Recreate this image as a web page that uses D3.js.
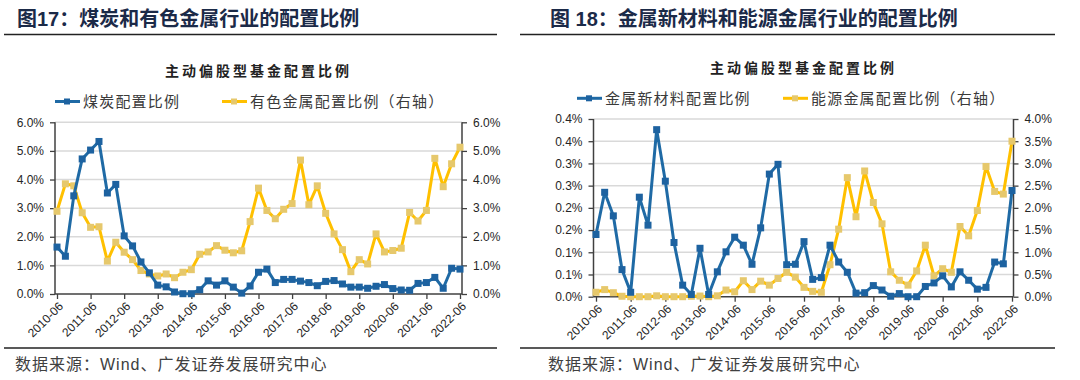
<!DOCTYPE html>
<html>
<head>
<meta charset="utf-8">
<script src="https://cdn.jsdelivr.net/npm/d3@7.9.0/dist/d3.min.js"></script>
<style>
  body { margin: 0; background: #fff; }
  svg text { font-family: "Liberation Sans", Arial, "Noto Sans CJK SC", sans-serif; }
</style>
</head>
<body>
<svg id="chart" width="1080" height="380"></svg>
<script>
// quarterly categories 2010-06 .. 2022-06
const quarters = [];
for (let y = 2010; y <= 2022; y++) {
  for (const m of ['03', '06', '09', '12']) {
    const q = `${y}-${m}`;
    if (q >= '2010-06' && q <= '2022-06') quarters.push(q);
  }
}
const yearTicks = ['2010-06', '2011-06', '2012-06', '2013-06', '2014-06', '2015-06', '2016-06',
  '2017-06', '2018-06', '2019-06', '2020-06', '2021-06', '2022-06'];

// fig 17: coal (left axis) and non-ferrous metals (right axis), %
const coal = [1.64, 1.32, 3.43, 4.72, 5.03, 5.33, 3.53, 3.83, 2.03, 1.68, 1.12, 0.74, 0.31, 0.25,
  0.07, 0.01, 0.01, 0.15, 0.46, 0.31, 0.46, 0.24, 0.03, 0.28, 0.76, 0.87, 0.40, 0.51, 0.51, 0.45,
  0.40, 0.29, 0.44, 0.47, 0.35, 0.24, 0.24, 0.20, 0.27, 0.33, 0.19, 0.14, 0.13, 0.37, 0.40, 0.58,
  0.20, 0.90, 0.87];
const nonferrous = [2.89, 3.85, 3.78, 2.84, 2.33, 2.35, 1.15, 1.81, 1.46, 1.20, 0.82, 0.70, 0.63,
  0.70, 0.57, 0.76, 0.85, 1.39, 1.47, 1.69, 1.53, 1.44, 1.51, 2.53, 3.70, 2.92, 2.63, 2.96, 3.16,
  4.68, 3.12, 3.78, 2.82, 2.10, 1.55, 0.78, 1.20, 1.05, 2.10, 1.47, 1.52, 1.60, 2.85, 2.55, 2.92,
  4.74, 3.75, 4.55, 5.13];
const ticks17 = [0, 1, 2, 3, 4, 5, 6];
const labels17 = ['0.0%', '1.0%', '2.0%', '3.0%', '4.0%', '5.0%', '6.0%'];

// fig 18: new metal materials (left axis) and energy metals (right axis), %
const newMaterials = [0.140, 0.235, 0.182, 0.061, 0.010, 0.224, 0.161, 0.376, 0.260, 0.122, 0.026,
  0.005, 0.109, 0.005, 0.056, 0.101, 0.134, 0.116, 0.073, 0.155, 0.276, 0.298, 0.072, 0.073, 0.124,
  0.039, 0.043, 0.116, 0.078, 0.055, 0.008, 0.009, 0.025, 0.015, 0.001, 0.007, 0.000, 0.000, 0.023,
  0.031, 0.047, 0.022, 0.056, 0.037, 0.017, 0.021, 0.078, 0.074, 0.239];
const energyMetals = [0.10, 0.16, 0.09, 0.01, 0.00, 0.00, 0.00, 0.02, 0.00, 0.00, 0.00, 0.01, 0.015,
  0.00, 0.02, 0.15, 0.11, 0.36, 0.16, 0.35, 0.26, 0.41, 0.55, 0.44, 0.21, 0.12, 0.10, 0.72, 1.52,
  2.68, 1.80, 2.83, 2.12, 1.64, 0.56, 0.37, 0.26, 0.58, 1.16, 0.47, 0.63, 0.55, 1.58, 1.37, 1.94,
  2.93, 2.37, 2.31, 3.50];
const ticks18L = [0, 0.05, 0.1, 0.15, 0.2, 0.25, 0.3, 0.35, 0.4];
const labels18L = ['0.0%', '0.1%', '0.1%', '0.2%', '0.2%', '0.3%', '0.3%', '0.4%', '0.4%'];
const ticks18R = [0, 0.5, 1, 1.5, 2, 2.5, 3, 3.5, 4];
const labels18R = ['0.0%', '0.5%', '1.0%', '1.5%', '2.0%', '2.5%', '3.0%', '3.5%', '4.0%'];

const BLUE = '#1f6aa5';
const BLUE_MARK = '#1d62a0';
const GOLD = '#ffc000';
const GOLD_MARK = '#e6c86c';
const CJK = '"Liberation Sans", Arial, "Noto Sans CJK SC", sans-serif';

const svg = d3.select('#chart');

function drawPanel(p) {
  const g = svg.append('g');

  // header title + rules
  g.append('text')
    .attr('x', p.titleX).attr('y', 26)
    .attr('font-size', 20).attr('font-weight', 'bold')
    .attr('fill', '#1b2a48')
    .style('font-family', CJK)
    .text(p.title);
  g.append('line').attr('x1', p.ruleX0).attr('x2', p.ruleX1)
    .attr('y1', 34.5).attr('y2', 34.5).attr('stroke', '#222').attr('stroke-width', 1.3);
  g.append('line').attr('x1', p.ruleX0).attr('x2', p.ruleX1)
    .attr('y1', 348).attr('y2', 348).attr('stroke', '#222').attr('stroke-width', 1.3);
  g.append('text')
    .attr('x', p.titleX - 2).attr('y', 370)
    .attr('font-size', 16).attr('fill', '#404040')
    .attr('letter-spacing', 1)
    .style('font-family', CJK)
    .text('数据来源：Wind、广发证券发展研究中心');

  // scales
  const x = d3.scalePoint().domain(quarters).range([p.px0, p.px1]);
  const yL = d3.scaleLinear().domain([0, p.leftMax]).range([p.yBot, p.yTop]);
  const yR = d3.scaleLinear().domain([0, p.rightMax]).range([p.yBot, p.yTop]);

  // chart title
  g.append('text')
    .attr('x', (p.axL + p.axR) / 2).attr('y', p.yTop - 46)
    .attr('text-anchor', 'middle')
    .attr('font-size', 14).attr('font-weight', 'bold')
    .attr('letter-spacing', 3).attr('fill', '#222')
    .style('font-family', '"Noto Sans CJK SC", sans-serif')
    .text('主动偏股型基金配置比例');

  // gridlines
  g.append('g').selectAll('line')
    .data(p.leftTicks.slice(1))
    .join('line')
    .attr('x1', p.axL).attr('x2', p.axR)
    .attr('y1', (d) => yL(d)).attr('y2', (d) => yL(d))
    .attr('stroke', '#d9d9d9').attr('stroke-width', 1.5);

  // axes
  const axisLeft = d3.axisLeft(yL).tickValues(p.leftTicks)
    .tickFormat((d, i) => p.leftLabels[i]).tickSize(5).tickSizeOuter(0).tickPadding(6);
  const axisRight = d3.axisRight(yR).tickValues(p.rightTicks)
    .tickFormat((d, i) => p.rightLabels[i]).tickSize(5).tickSizeOuter(0).tickPadding(6);
  const axisX = d3.axisBottom(x).tickValues(yearTicks).tickFormat('').tickSize(5).tickSizeOuter(0);

  const gl = g.append('g').attr('transform', `translate(${p.axL},0)`).call(axisLeft);
  const gr = g.append('g').attr('transform', `translate(${p.axR},0)`).call(axisRight);
  const gx = g.append('g').attr('transform', `translate(0,${p.yBot})`).call(axisX);
  [gl, gr, gx].forEach((a) => {
    a.select('.domain').remove();
    a.selectAll('.tick line').attr('stroke', '#404040').attr('stroke-width', 1.3);
    a.selectAll('.tick text').attr('font-size', 12).attr('fill', '#262626')
      .style('font-family', '"Liberation Sans", Arial, sans-serif');
  });
  // frame lines
  g.append('line').attr('x1', p.axL).attr('x2', p.axL).attr('y1', p.yTop).attr('y2', p.yBot)
    .attr('stroke', '#404040').attr('stroke-width', 1.5);
  g.append('line').attr('x1', p.axR).attr('x2', p.axR).attr('y1', p.yTop).attr('y2', p.yBot)
    .attr('stroke', '#404040').attr('stroke-width', 1.5);
  g.append('line').attr('x1', p.axL).attr('x2', p.axR).attr('y1', p.yBot).attr('y2', p.yBot)
    .attr('stroke', '#404040').attr('stroke-width', 1.5);

  // rotated year labels
  g.append('g').selectAll('text')
    .data(yearTicks)
    .join('text')
    .attr('transform', (d) => `translate(${x(d) + 4},${p.yBot + 10}) rotate(-45)`)
    .attr('text-anchor', 'end')
    .attr('dy', '0.35em')
    .attr('font-size', 12).attr('fill', '#262626')
    .style('font-family', '"Liberation Sans", Arial, sans-serif')
    .text((d) => d);

  // series: yellow (right axis) then blue (left axis)
  const series = [
    { values: p.rightValues, y: yR, color: GOLD, mark: GOLD_MARK },
    { values: p.leftValues, y: yL, color: BLUE, mark: BLUE_MARK },
  ];
  series.forEach((s) => {
    const pts = quarters.map((q, i) => [x(q), s.y(s.values[i])]);
    g.append('path')
      .attr('d', d3.line()(pts))
      .attr('fill', 'none').attr('stroke', s.color)
      .attr('stroke-width', 3).attr('stroke-linejoin', 'round');
    g.append('g').selectAll('rect')
      .data(pts)
      .join('rect')
      .attr('x', (d) => d[0] - 3.5).attr('y', (d) => d[1] - 3.5)
      .attr('width', 7).attr('height', 7)
      .attr('fill', s.mark);
  });

  // legend
  const legend = [
    { x: p.legX[0], label: p.legLabels[0], color: BLUE, mark: BLUE_MARK },
    { x: p.legX[1], label: p.legLabels[1], color: GOLD, mark: GOLD_MARK },
  ];
  legend.forEach((d) => {
    const lg = g.append('g').attr('transform', `translate(${d.x},${p.legY})`);
    lg.append('line').attr('x1', 0).attr('x2', 25).attr('stroke', d.color).attr('stroke-width', 3);
    lg.append('rect').attr('x', 9).attr('y', -3).attr('width', 6).attr('height', 6).attr('fill', d.mark);
    lg.append('text').attr('x', 28).attr('y', 5.5)
      .attr('font-size', 15).attr('letter-spacing', 1.2).attr('fill', '#3a3a3a')
      .style('font-family', '"Noto Sans CJK SC", sans-serif')
      .text(d.label);
  });
}

drawPanel({
  title: '图17：煤炭和有色金属行业的配置比例',
  titleX: 17, ruleX0: 4, ruleX1: 497,
  px0: 57, px1: 460, axL: 55, axR: 462,
  yTop: 122.3, yBot: 294,
  leftMax: 6, rightMax: 6,
  leftTicks: ticks17, leftLabels: labels17,
  rightTicks: ticks17, rightLabels: labels17,
  leftValues: coal, rightValues: nonferrous,
  legX: [55, 222], legY: 101.5,
  legLabels: ['煤炭配置比例', '有色金属配置比例（右轴）'],
});

drawPanel({
  title: '图 18：金属新材料和能源金属行业的配置比例',
  titleX: 550, ruleX0: 520, ruleX1: 1055,
  px0: 596, px1: 1012, axL: 593.5, axR: 1013.5,
  yTop: 119, yBot: 296.7,
  leftMax: 0.4, rightMax: 4,
  leftTicks: ticks18L, leftLabels: labels18L,
  rightTicks: ticks18R, rightLabels: labels18R,
  leftValues: newMaterials, rightValues: energyMetals,
  legX: [577, 783], legY: 98.3,
  legLabels: ['金属新材料配置比例', '能源金属配置比例（右轴）'],
});
</script>
</body>
</html>
